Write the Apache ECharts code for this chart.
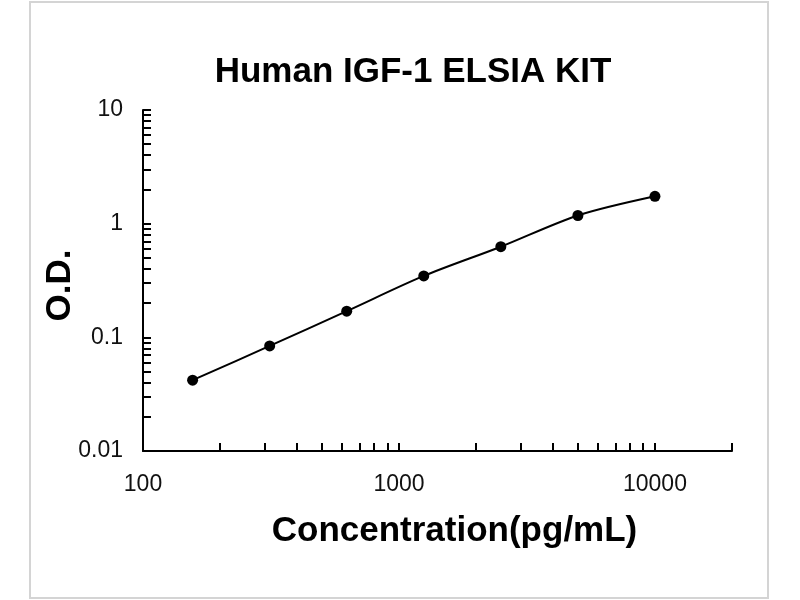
<!DOCTYPE html>
<html>
<head>
    <meta charset="utf-8">
    <title>Human IGF-1 ELSIA KIT</title>
    <script src="https://cdn.jsdelivr.net/npm/echarts@6/dist/echarts.min.js"></script>
    <style>
        html, body { margin: 0; padding: 0; background: #fff; }
    </style>
</head>
<body>
<div id="main" style="width: 800px;height:600px;"></div>
<script type="text/javascript">
// standard curve points
var concentration = [156.25, 312.5, 625, 1250, 2500, 5000, 10000];
var od = [0.042, 0.084, 0.170, 0.347, 0.627, 1.18, 1.74];

// log axis ticks (minor ticks at 2..9 of each decade)
var xTicks = [100, 200, 300, 400, 500, 600, 700, 800, 900,
              1000, 2000, 3000, 4000, 5000, 6000, 7000, 8000, 9000,
              10000, 20000];
var xLabels = [100, 1000, 10000];
var yTicks = [0.01, 0.02, 0.03, 0.04, 0.05, 0.06, 0.07, 0.08, 0.09,
              0.1, 0.2, 0.3, 0.4, 0.5, 0.6, 0.7, 0.8, 0.9,
              1, 2, 3, 4, 5, 6, 7, 8, 9, 10];
var yLabels = [0.01, 0.1, 1, 10];

var points = [];
for (var i = 0; i < concentration.length; i++) {
    points.push([concentration[i], od[i]]);
}

function fmt(v) {
    return String(+Number(v).toPrecision(6));
}

var myChart = echarts.init(document.getElementById('main'));

var option = {
    backgroundColor: '#fff',
    animation: false,
    title: {
        text: 'Human IGF-1 ELSIA KIT',
        left: 408,
        top: 50,
        textAlign: 'center',
        textStyle: {
            fontFamily: 'Liberation Sans',
            fontSize: 35,
            fontWeight: 'bold',
            color: '#000'
        }
    },
    graphic: [{
        type: 'rect',
        shape: { x: 30, y: 2, width: 738, height: 596 },
        style: { fill: 'none', stroke: '#d4d4d4', lineWidth: 2 },
        silent: true
    }],
    grid: {
        left: 143,
        right: 68,
        top: 110,
        bottom: 149
    },
    xAxis: {
        type: 'log',
        logBase: 10,
        min: 100,
        max: 20000,
        name: 'Concentration(pg/mL)',
        nameLocation: 'middle',
        nameGap: 63,
        nameTextStyle: {
            fontFamily: 'Liberation Sans',
            fontSize: 35,
            fontWeight: 'bold',
            color: '#000',
            padding: [0, 0, 0, 34]
        },
        axisLine: { lineStyle: { color: '#000', width: 2 } },
        axisTick: {
            show: true,
            inside: true,
            length: 8,
            customValues: xTicks,
            lineStyle: { color: '#000', width: 2 }
        },
        minorTick: { show: false },
        splitLine: { show: false },
        axisLabel: {
            customValues: xLabels,
            margin: 22,
            fontFamily: 'Liberation Sans',
            fontSize: 23,
            color: '#111',
            formatter: fmt
        }
    },
    yAxis: {
        type: 'log',
        logBase: 10,
        min: 0.01,
        max: 10,
        name: 'O.D.',
        nameLocation: 'middle',
        nameGap: 65,
        nameMoveOverlap: false,
        nameTextStyle: {
            fontFamily: 'Liberation Sans',
            fontSize: 35,
            fontWeight: 'bold',
            color: '#000',
            padding: [0, 10, 0, 0]
        },
        axisLine: { show: true, lineStyle: { color: '#000', width: 2 } },
        axisTick: {
            show: true,
            inside: true,
            length: 8,
            customValues: yTicks,
            lineStyle: { color: '#000', width: 2 }
        },
        minorTick: { show: false },
        splitLine: { show: false },
        axisLabel: {
            customValues: yLabels,
            margin: 20,
            fontFamily: 'Liberation Sans',
            fontSize: 23,
            color: '#111',
            formatter: fmt
        }
    },
    series: [{
        name: 'O.D.',
        type: 'line',
        smooth: 0.3,
        data: points,
        symbol: 'circle',
        symbolSize: 11,
        itemStyle: { color: '#000' },
        lineStyle: { color: '#000', width: 2 }
    }]
};

myChart.setOption(option);
</script>
</body>
</html>
